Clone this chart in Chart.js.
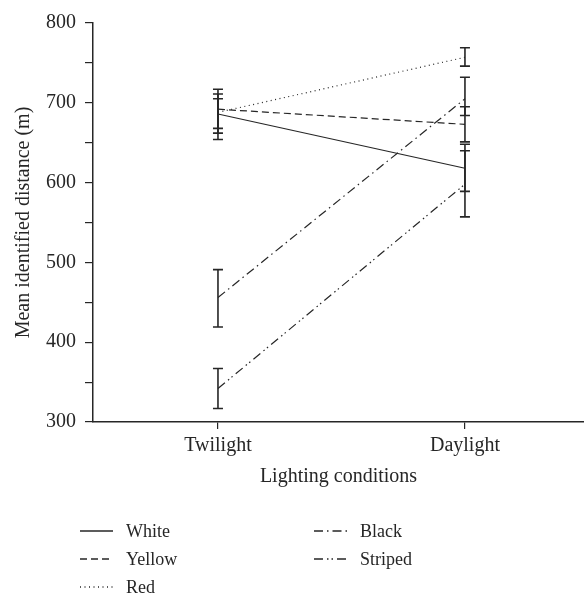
<!DOCTYPE html>
<html>
<head>
<meta charset="utf-8">
<script src="https://cdn.jsdelivr.net/npm/chart.js@4/dist/chart.umd.min.js"></script>
<style>
  html, body { margin: 0; padding: 0; background: #fff; }
  #wrap { width: 584px; height: 597px; }
</style>
</head>
<body>
<div id="wrap"><canvas id="lightChart" width="584" height="597"></canvas></div>
<script>
// data
const categories = ['Twilight', 'Daylight'];
const seriesNames = ['White', 'Yellow', 'Red', 'Black', 'Striped'];
const whiteMean = [686, 618];
const whiteLow = [662, 589];
const whiteHigh = [711, 648];
const yellowMean = [692, 673];
const yellowLow = [668, 651];
const yellowHigh = [717, 695];
const redMean = [688, 757];
const redLow = [654, 746];
const redHigh = [705, 769];
const blackMean = [456, 705];
const blackLow = [419, 684];
const blackHigh = [491, 732];
const stripedMean = [342, 598];
const stripedLow = [317, 557];
const stripedHigh = [367, 640];
const yTicks = [300, 400, 500, 600, 700, 800];

const ink = '#262626';
const serif = "'Liberation Serif', 'DejaVu Serif', serif";

const means = [whiteMean, yellowMean, redMean, blackMean, stripedMean];
const lows = [whiteLow, yellowLow, redLow, blackLow, stripedLow];
const highs = [whiteHigh, yellowHigh, redHigh, blackHigh, stripedHigh];
const dashes = [[], [7, 4], [1, 3.5], [9, 4, 1.5, 4], [9, 4, 1.5, 3, 1.5, 4]];

const datasets = seriesNames.map((name, i) => ({
    label: name,
    data: means[i].map((v, j) => ({ x: j, y: v })),
    low: lows[i],
    high: highs[i],
    borderColor: ink,
    borderWidth: 1.2,
    borderDash: dashes[i],
    pointRadius: 0,
    tension: 0,
    fill: false
}));

// error bars drawn from the scales
const errorBars = {
    id: 'errorBars',
    afterDatasetsDraw(chart) {
        const ctx = chart.ctx;
        const xs = chart.scales.x, ys = chart.scales.y;
        ctx.save();
        ctx.strokeStyle = ink;
        ctx.lineWidth = 1.6;
        ctx.setLineDash([]);
        chart.data.datasets.forEach(ds => {
            ds.data.forEach((p, j) => {
                const x = xs.getPixelForValue(p.x);
                const yl = ys.getPixelForValue(ds.low[j]);
                const yh = ys.getPixelForValue(ds.high[j]);
                ctx.beginPath();
                ctx.moveTo(x, yl); ctx.lineTo(x, yh);
                ctx.moveTo(x - 5, yl); ctx.lineTo(x + 5, yl);
                ctx.moveTo(x - 5, yh); ctx.lineTo(x + 5, yh);
                ctx.stroke();
            });
        });
        ctx.restore();
    }
};

// two-column legend under the axis title
const legendBelow = {
    id: 'legendBelow',
    afterDraw(chart) {
        const ctx = chart.ctx;
        ctx.save();
        ctx.font = '18px ' + serif;
        ctx.fillStyle = ink;
        ctx.textBaseline = 'middle';
        chart.data.datasets.forEach((ds, i) => {
            const col = i < 3 ? 0 : 1;
            const row = i < 3 ? i : i - 3;
            const x0 = col === 0 ? 80 : 314;
            const y = 531 + row * 28;
            ctx.strokeStyle = ink;
            ctx.lineWidth = 1.3;
            ctx.setLineDash(ds.borderDash);
            ctx.beginPath();
            ctx.moveTo(x0, y); ctx.lineTo(x0 + 33, y);
            ctx.stroke();
            ctx.fillText(ds.label, x0 + 46, y + 1);
        });
        ctx.restore();
    }
};

new Chart(document.getElementById('lightChart'), {
    type: 'line',
    data: { datasets: datasets },
    options: {
        responsive: false,
        animation: false,
        layout: { padding: { top: 23, right: 0, left: 0, bottom: 0 } },
        plugins: { legend: { display: false }, tooltip: { enabled: false } },
        scales: {
            x: {
                type: 'linear',
                min: -0.506,
                max: 1.482,
                afterBuildTicks: s => { s.ticks = categories.map((c, i) => ({ value: i })); },
                afterFit: s => { s.height = 175; },
                ticks: {
                    callback: v => categories[v],
                    color: ink,
                    font: { family: serif, size: 20 },
                    padding: 5,
                    maxRotation: 0
                },
                grid: { drawOnChartArea: false, tickLength: 7, color: ink, lineWidth: 1.2 },
                border: { color: ink, width: 1.5 },
                title: {
                    display: true,
                    text: 'Lighting conditions',
                    color: ink,
                    font: { family: serif, size: 20 },
                    padding: { top: 4, bottom: 108 }
                }
            },
            y: {
                min: 300,
                max: 800,
                afterBuildTicks: s => {
                    const t = [];
                    for (let v = 300; v <= 800; v += 50) t.push({ value: v });
                    s.ticks = t;
                },
                afterFit: s => { s.width = 93; },
                ticks: {
                    callback: v => yTicks.includes(v) ? v : '',
                    color: ink,
                    font: { family: serif, size: 20 },
                    padding: 9
                },
                grid: { drawOnChartArea: false, tickLength: 8, color: ink, lineWidth: 1.2 },
                border: { color: ink, width: 1.5 },
                title: {
                    display: true,
                    text: 'Mean identified distance (m)',
                    color: ink,
                    font: { family: serif, size: 20 },
                    padding: { top: 12, bottom: 4 }
                }
            }
        }
    },
    plugins: [errorBars, legendBelow]
});
</script>
</body>
</html>
